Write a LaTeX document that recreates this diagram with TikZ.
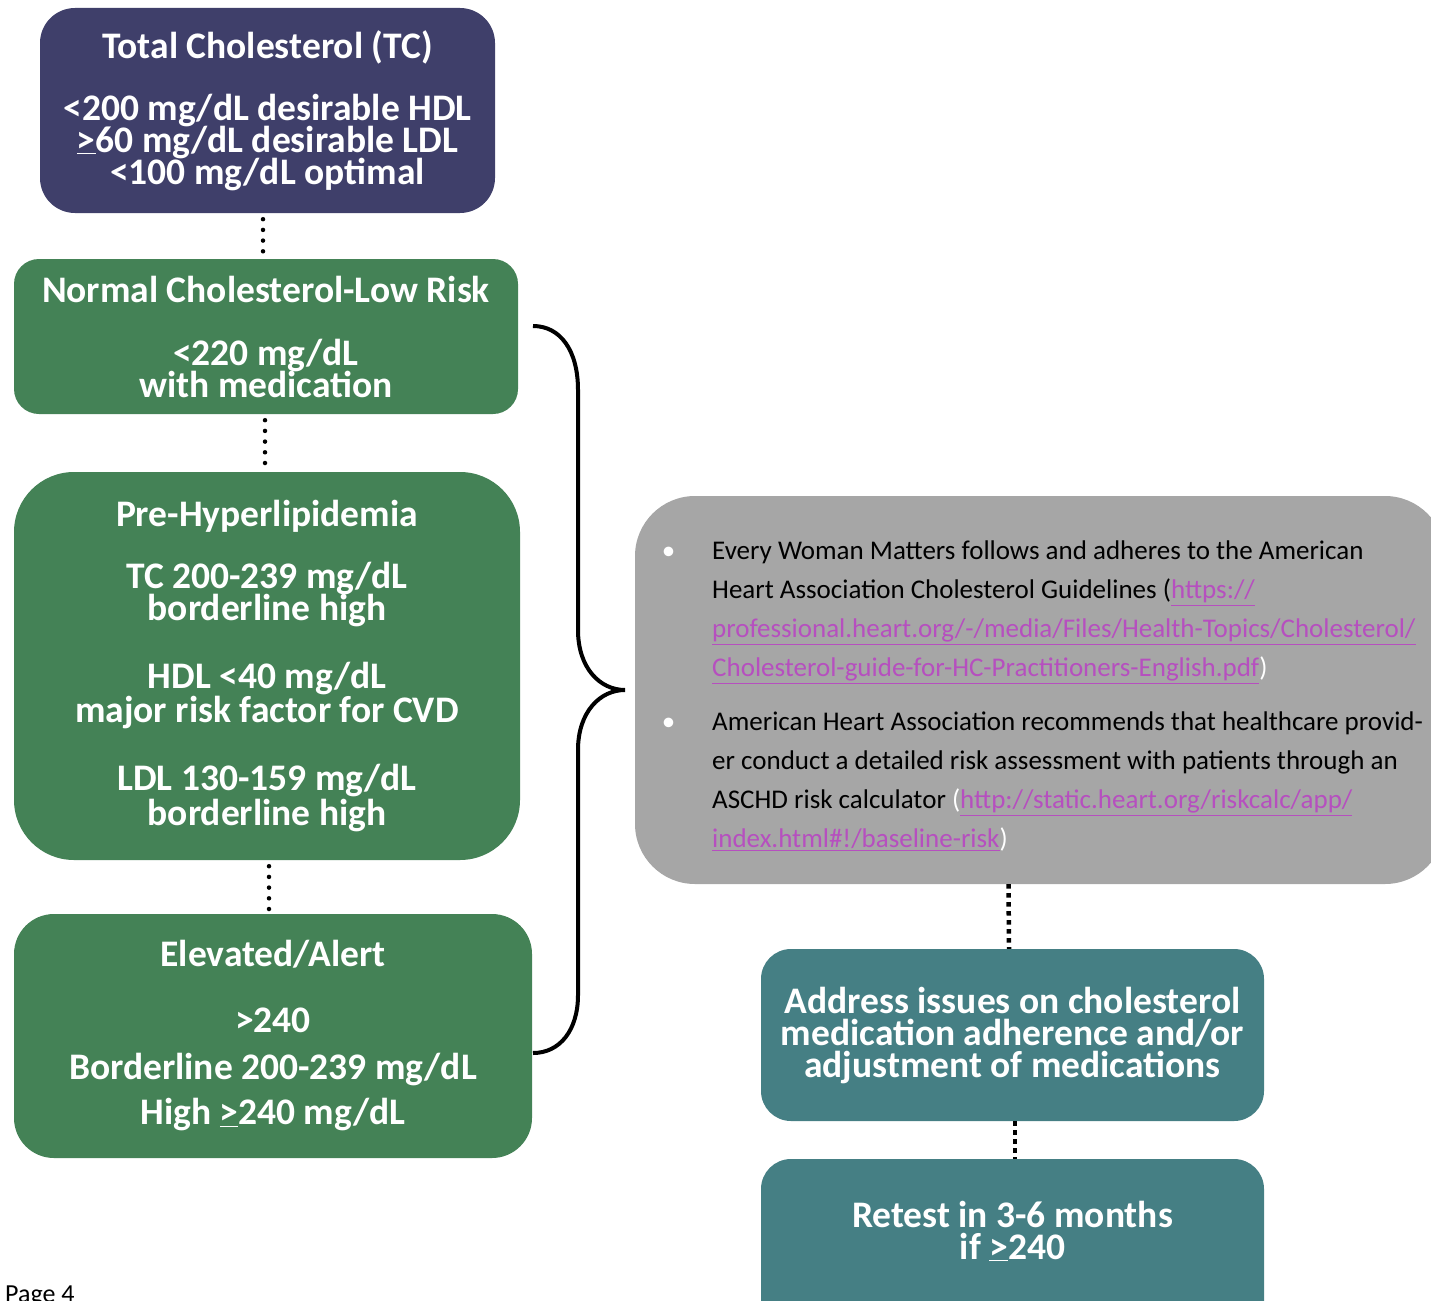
\documentclass[tikz,border=0pt]{standalone}
\usepackage{fontspec}
\setmainfont{Carlito}
\definecolor{navy}{HTML}{3F3F6A}
\definecolor{grn}{HTML}{448256}
\definecolor{tealc}{HTML}{457F84}
\definecolor{greybox}{HTML}{A6A6A6}
\definecolor{linkc}{HTML}{B64FBF}
\newcommand{\lnk}[1]{\textcolor{linkc}{\underline{#1}}}
\newcommand{\wpar}[1]{\textcolor{white}{#1}}
\newcommand{\tightlines}{\lineskiplimit=-60pt\relax\lineskip=0pt\relax}
\tikzset{
  box/.style={draw=none, inner sep=0pt, text=white, align=center,
    font=\bfseries\fontsize{37.5}{32}\selectfont\tightlines},
  rounddots/.style={line width=4.5pt, line cap=round, dash pattern=on 0pt off 10.7pt},
  squaredots/.style={line width=4.5pt, dash pattern=on 4.5pt off 4.5pt},
}
\begin{document}
\begin{tikzpicture}[x=1pt,y=-1pt]
\useasboundingbox (0,0) rectangle (1431,1300);
% left column
\node[box, fill=navy, rounded corners=35pt, minimum width=455pt, minimum height=205pt] (tc) at (267.5,110.5)
 {Total Cholesterol (TC)\\[30pt]
  <200 mg/dL desirable HDL\\
  \underline{>}60 mg/dL desirable LDL\\
  <100 mg/dL optimal};
\node[box, fill=grn, rounded corners=25pt, minimum width=504pt, minimum height=155pt] (normal) at (266,336.5)
 {Normal Cholesterol-Low Risk\\[31pt]
  <220 mg/dL\\
  with medication};
\node[box, fill=grn, rounded corners=60pt, minimum width=506pt, minimum height=388pt] (pre) at (267,666)
 {Pre-Hyperlipidemia\\[30pt]
  TC 200-239 mg/dL\\
  borderline high\\[36pt]
  HDL <40 mg/dL\\[2pt]
  major risk factor for CVD\\[36pt]
  LDL 130-159 mg/dL\\[3pt]
  borderline high};
\node[box, fill=grn, rounded corners=40pt, minimum width=518pt, minimum height=244pt] (elev) at (273,1036)
 {Elevated/Alert\\[34pt]
  >240\\[15pt]
  Borderline 200-239 mg/dL\\[13pt]
  High \underline{>}240 mg/dL};
% right column
\node[fill=greybox, rounded corners=60pt, minimum width=810pt, minimum height=388pt, inner sep=0pt] (grey) at (1040,690) {};
\node[anchor=north west, inner sep=0pt, align=left, text=black,
      font=\fontsize{27}{39}\selectfont] (greytext) at (712,541)
 {\llap{\wpar{\textbullet}\hskip 37pt}Every Woman Matters follows and adheres to the American\\
  Heart Association Cholesterol Guidelines (\lnk{https://}\\
  \lnk{professional.heart.org/-/media/Files/Health-Topics/Cholesterol/}\\
  \lnk{Cholesterol-guide-for-HC-Practitioners-English.pdf}\wpar{)}\\[15pt]
  \llap{\wpar{\textbullet}\hskip 37pt}American Heart Association recommends that healthcare provid-\\
  er conduct a detailed risk assessment with patients through an\\
  ASCHD risk calculator \wpar{(}\lnk{http://static.heart.org/riskcalc/app/}\\
  \lnk{index.html\#!/baseline-risk}\wpar{)}};
\node[box, fill=tealc, rounded corners=30pt, minimum width=503pt, minimum height=172pt] (address) at (1012.5,1035)
 {Address issues on cholesterol\\
  medication adherence and/or\\
  adjustment of medications};
\node[fill=tealc, rounded corners=30pt, minimum width=503pt, minimum height=181pt, inner sep=0pt] (retest) at (1012.5,1249.5) {};
\node[box] (retesttext) at (1012.5,1231)
 {Retest in 3-6 months\\
  if \underline{>}240};
\node[anchor=base west, inner sep=0pt, font=\fontsize{26}{28}\selectfont] (page) at (5,1302) {Page 4};
% connectors
\draw[rounddots] ([xshift=-4.5pt,yshift=-6pt]tc.south) -- ([xshift=-3pt]normal.north);
\draw[rounddots] ([xshift=-1pt,yshift=-6pt]normal.south) -- ([xshift=-2pt]pre.north);
\draw[rounddots] ([xshift=2pt,yshift=-6pt]pre.south) -- ([xshift=-4pt]elev.north);
\draw[squaredots] ([xshift=-31.5pt]grey.south) -- ([xshift=-3.5pt]address.north);
\draw[squaredots] ([xshift=2.5pt]address.south) -- ([xshift=2.5pt]retest.north);
% brace
\coordinate (btop) at (533,326);
\coordinate (btip) at (625,690);
\coordinate (bbot) at (533,1053);
\draw[line width=4pt] (btop) .. controls (560,326) and (578,350) .. (578,390)
  -- (578,630) .. controls (578,668) and (600,690) .. (btip)
  .. controls (600,690) and (578,712) .. (578,750)
  -- (578,995) .. controls (578,1030) and (560,1053) .. (bbot);
\end{tikzpicture}
\end{document}
